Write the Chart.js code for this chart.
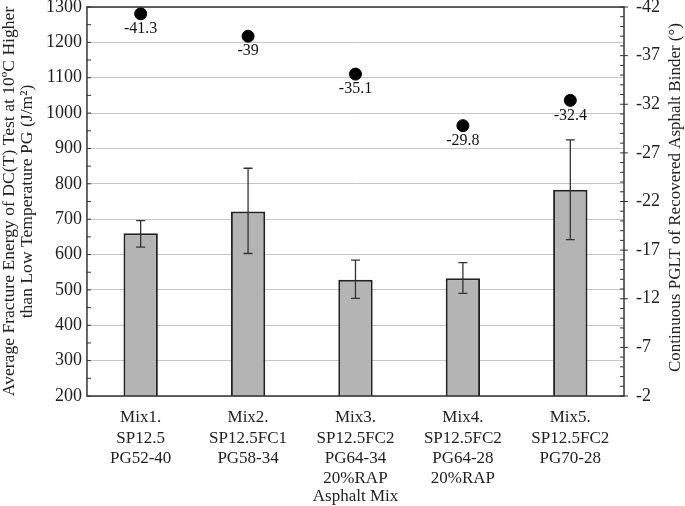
<!DOCTYPE html>
<html>
<head>
<meta charset="utf-8">
<script src="https://cdn.jsdelivr.net/npm/chart.js@4.4.1/dist/chart.umd.min.js"></script>
<style>
  html, body { margin: 0; padding: 0; background: #fff; }
  #wrap { width: 685px; height: 506px; position: relative; }
</style>
</head>
<body>
<div id="wrap"><canvas id="dataChart"></canvas></div>
<script>
// ===== data =====
const mixLabels = [
  ["Mix1.", "SP12.5", "PG52-40"],
  ["Mix2.", "SP12.5FC1", "PG58-34"],
  ["Mix3.", "SP12.5FC2", "PG64-34", "20%RAP"],
  ["Mix4.", "SP12.5FC2", "PG64-28", "20%RAP"],
  ["Mix5.", "SP12.5FC2", "PG70-28"]
];
const fractureEnergy = [660, 722, 529, 533, 783];
const errLow = [621, 603, 476, 490, 642];
const errHigh = [696, 844, 584, 577, 924];
const pglt = [-41.3, -39, -35.1, -29.8, -32.4];
const leftTicks = { min: 200, max: 1300, step: 100 };
const rightTicks = { min: -42, max: -2, step: 5 };

const serif = "'Liberation Serif', 'DejaVu Serif', serif";
const ink = "#222";

// error bars on the bars
const errorBars = {
  id: "errorBars",
  afterDatasetsDraw(chart) {
    const ctx = chart.ctx;
    const meta = chart.getDatasetMeta(0);
    const y = chart.scales.y;
    ctx.save();
    ctx.strokeStyle = "#333";
    ctx.lineWidth = 1.3;
    meta.data.forEach((bar, i) => {
      const x = bar.x;
      const yHi = y.getPixelForValue(errHigh[i]);
      const yLo = y.getPixelForValue(errLow[i]);
      ctx.beginPath();
      ctx.moveTo(x, yHi); ctx.lineTo(x, yLo);
      ctx.moveTo(x - 4.5, yHi); ctx.lineTo(x + 4.5, yHi);
      ctx.moveTo(x - 4.5, yLo); ctx.lineTo(x + 4.5, yLo);
      ctx.stroke();
    });
    ctx.restore();
  }
};

// value labels under the dots, frame, minor ticks, axis titles
const extras = {
  id: "extras",
  afterDraw(chart) {
    const ctx = chart.ctx;
    const a = chart.chartArea;
    const yL = chart.scales.y;
    const yR = chart.scales.y1;
    ctx.save();

    // labels under dots
    ctx.fillStyle = "#111";
    ctx.font = "16px " + serif;
    ctx.textAlign = "center";
    ctx.textBaseline = "top";
    chart.getDatasetMeta(1).data.forEach((pt, i) => {
      ctx.fillText(String(pglt[i]), pt.x, pt.y + 7);
    });

    // frame
    ctx.strokeStyle = "#333";
    ctx.lineWidth = 1.5;
    ctx.strokeRect(a.left, a.top, a.right - a.left, a.bottom - a.top);

    // minor ticks
    ctx.lineWidth = 1;
    ctx.beginPath();
    for (let v = leftTicks.min; v <= leftTicks.max; v += 50) {
      const py = yL.getPixelForValue(v);
      ctx.moveTo(a.left, py); ctx.lineTo(a.left + 4, py);
    }
    for (let v = rightTicks.min; v <= rightTicks.max; v += 1) {
      const py = yR.getPixelForValue(v);
      ctx.moveTo(a.right, py); ctx.lineTo(a.right - 4, py);
      if ((v - rightTicks.min) % rightTicks.step === 0) {
        ctx.moveTo(a.right, py); ctx.lineTo(a.right + 4, py);
      }
    }
    ctx.stroke();

    // x axis title
    ctx.fillStyle = ink;
    ctx.font = "17px " + serif;
    ctx.textBaseline = "middle";
    ctx.fillText("Asphalt Mix", (a.left + a.right) / 2, chart.height - 9);

    // right axis title, reading bottom to top
    ctx.translate(chart.width - 9, (a.top + a.bottom) / 2 - 4);
    ctx.rotate(-Math.PI / 2);
    ctx.fillText("Continuous PGLT of Recovered Asphalt Binder (°)", 0, 0);
    ctx.restore();
  }
};

// let the top tick label sit at the very top like the original
const tightTop = scale => { scale.paddingTop = 6; };

const ctx = document.getElementById("dataChart").getContext("2d");
new Chart(ctx, {
  type: "bar",
  data: {
    labels: mixLabels,
    datasets: [
      {
        label: "Fracture Energy",
        data: fractureEnergy,
        yAxisID: "y",
        backgroundColor: "#b4b4b4",
        borderColor: "#222",
        borderWidth: 2,
        borderSkipped: false,
        categoryPercentage: 1,
        barPercentage: 0.32,
        order: 2
      },
      {
        type: "line",
        label: "PGLT",
        data: pglt,
        yAxisID: "y1",
        showLine: false,
        pointRadius: 6,
        pointBackgroundColor: "#000",
        pointBorderColor: "#000",
        order: 1
      }
    ]
  },
  options: {
    responsive: true,
    maintainAspectRatio: false,
    animation: false,
    layout: { padding: { top: 0, right: 13, left: 0, bottom: 0 } },
    plugins: { legend: { display: false }, tooltip: { enabled: false } },
    scales: {
      x: {
        grid: { display: false, drawTicks: false },
        border: { display: false },
        afterFit: scale => { scale.height = 110; },
        ticks: { color: ink, font: { family: serif, size: 17, lineHeight: 1.18 }, padding: 12, maxRotation: 0, autoSkip: false }
      },
      y: {
        position: "left",
        min: leftTicks.min,
        max: leftTicks.max,
        afterFit: tightTop,
        ticks: { stepSize: leftTicks.step, color: ink, font: { family: serif, size: 18 }, padding: 5, callback: v => String(v) },
        grid: { color: "#c6c6c6", lineWidth: 1, drawTicks: false },
        border: { display: false },
        title: {
          display: true,
          text: ["Average Fracture Energy of DC(T) Test at 10ºC Higher", "than Low Temperature PG (J/m²)"],
          color: ink,
          font: { family: serif, size: 17.6, lineHeight: 1.05 },
          padding: { top: 0, bottom: 4 }
        }
      },
      y1: {
        position: "right",
        min: rightTicks.min,
        max: rightTicks.max,
        reverse: true,
        afterFit: tightTop,
        ticks: { stepSize: rightTicks.step, color: ink, font: { family: serif, size: 18 }, padding: 12, callback: v => String(v) },
        grid: { display: false, drawTicks: false },
        border: { display: false }
      }
    }
  },
  plugins: [errorBars, extras]
});
</script>
</body>
</html>
